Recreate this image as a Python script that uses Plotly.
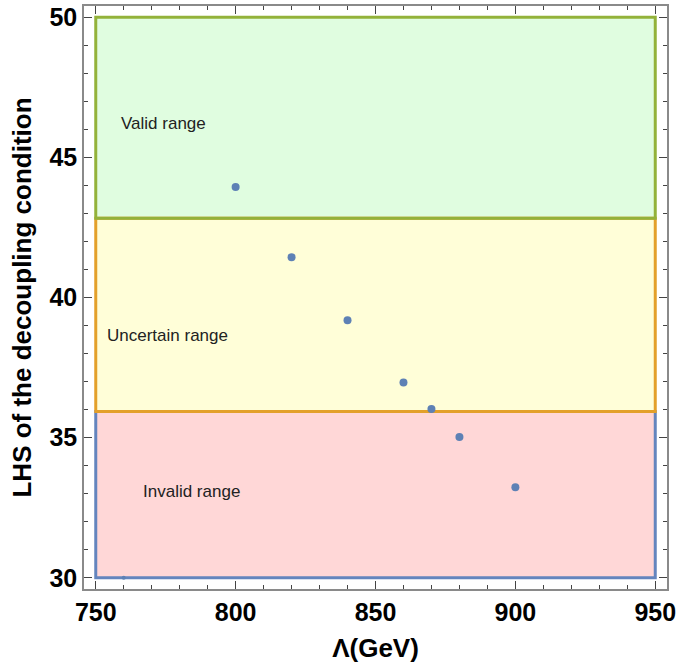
import plotly.graph_objects as go

# Data
lam = [760, 800, 820, 840, 860, 870, 880, 900]
lhs = [30.0, 43.94, 41.44, 39.19, 36.97, 36.02, 35.02, 33.23]

region_names = ["Invalid range", "Uncertain range", "Valid range"]
region_y0 = [30.0, 35.93, 42.83]
region_y1 = [35.93, 42.83, 50.0]
region_x0 = 750
region_x1 = 950
region_fill = ["#FFD7D7", "#FFFED8", "#E0FDE0"]
region_line = ["#6485BE", "#E3A02A", "#93B23A"]
label_x = [784.3, 775.8, 774.3]
label_y = [33.09, 38.63, 46.22]

x_ticks = [750, 800, 850, 900, 950]
y_ticks = [30, 35, 40, 45, 50]

fig = go.Figure()

shapes = []
for y0, y1, fc in zip(region_y0, region_y1, region_fill):
    shapes.append(dict(type="rect", xref="x", yref="y", x0=region_x0, x1=region_x1,
                       y0=y0, y1=y1, fillcolor=fc, line=dict(width=0), layer="below"))
for y0, y1, lc in zip(region_y0, region_y1, region_line):
    shapes.append(dict(type="rect", xref="x", yref="y", x0=region_x0, x1=region_x1,
                       y0=y0, y1=y1, fillcolor="rgba(0,0,0,0)", line=dict(width=3, color=lc),
                       layer="below"))

# points sitting on the lower boundary are mostly hidden by the edge line in the original
marker_sizes = [4 if v <= region_y0[0] else 8 for v in lhs]

fig.add_trace(go.Scatter(x=lam, y=lhs, mode="markers",
                         marker=dict(size=marker_sizes, color="#5E81B5", opacity=1,
                                     line=dict(width=0)),
                         cliponaxis=True, showlegend=False, hoverinfo="x+y"))

for name, lx, ly in zip(region_names, label_x, label_y):
    fig.add_annotation(x=lx, y=ly, text=name, showarrow=False,
                       font=dict(family="Liberation Sans, Arial", size=17, color="#222222"))

axis_common = dict(showgrid=False, zeroline=False, showline=True, mirror="allticks",
                   linecolor="#8a8a8a", linewidth=1.5, ticks="inside", ticklen=8,
                   tickwidth=1, tickcolor="#444444", automargin=False,
                   tickfont=dict(family="Liberation Sans, Arial", size=25, color="black", weight="bold"),
                   title_font=dict(family="Liberation Sans, Arial", size=26, color="black", weight="bold"))

fig.update_xaxes(range=[745.8, 954.2], tickvals=x_ticks,
                 minor=dict(ticks="inside", ticklen=4, dtick=10, tick0=750, tickcolor="#444444"),
                 title_text="Λ(GeV)", title_standoff=14, **axis_common)
fig.update_yaxes(range=[29.6, 50.4], tickvals=y_ticks,
                 minor=dict(ticks="inside", ticklen=4, dtick=1, tick0=30, tickcolor="#444444"),
                 title_text="LHS of the decoupling condition", title_standoff=10, **axis_common)

fig.update_layout(width=678, height=666, margin=dict(l=84, r=11, t=6, b=77),
                  plot_bgcolor="white", paper_bgcolor="white", shapes=shapes)

fig.write_html("out.html", config={"displayModeBar": False},
               post_script="document.body.style.margin='0px';")
